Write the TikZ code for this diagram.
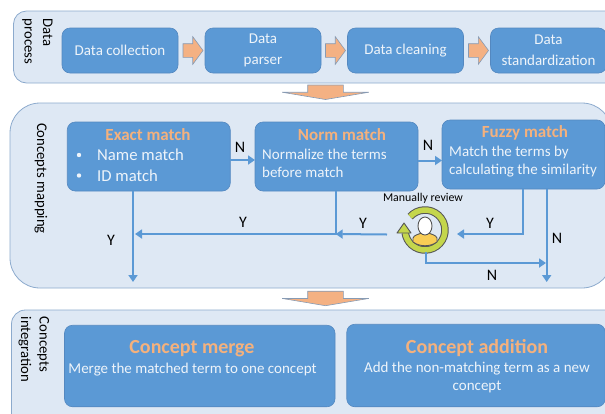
\documentclass[tikz,border=0pt]{standalone}
\usepackage{fontspec}
\setmainfont{Carlito}
\usetikzlibrary{positioning, arrows.meta, shapes.arrows}
\definecolor{panelFill}{RGB}{222, 232, 244}
\definecolor{panelLine}{RGB}{140, 170, 205}
\definecolor{boxFill}{RGB}{91, 153, 213}
\definecolor{boxLine}{RGB}{84, 136, 192}
\definecolor{blockFill}{RGB}{244, 177, 131}
\definecolor{blockLine}{RGB}{135, 155, 180}
\definecolor{titleColor}{RGB}{244, 177, 125}
\definecolor{textColor}{RGB}{238, 244, 250}
\definecolor{ringFill}{RGB}{196, 214, 76}
\definecolor{iconLine}{RGB}{85, 85, 85}
\definecolor{shirtFill}{RGB}{249, 205, 85}
\tikzset{
    panel_box/.style={
        draw=panelLine,
        fill=panelFill,
        line width=0.8pt
    },
    panel_label/.style={
        rotate=-90,
        align=left,
        text=black,
        inner sep=0pt,
        font=\fontsize{14.7}{18.5}\selectfont
    },
    step_box/.style={
        draw=boxLine,
        fill=boxFill,
        line width=0.6pt,
        rounded corners=8pt,
        outer sep=0pt,
        inner sep=0pt,
        align=center,
        text=textColor
    },
    top_box/.style={
        step_box,
        minimum width=116pt,
        minimum height=45pt,
        font=\fontsize{15}{21}\selectfont
    },
    match_box/.style={
        step_box,
        minimum width=163pt,
        minimum height=69pt
    },
    title_text/.style={
        text=titleColor,
        inner sep=0pt,
        font=\bfseries\fontsize{17}{20}\selectfont
    },
    big_title/.style={
        title_text,
        font=\bfseries\fontsize{20}{24}\selectfont
    },
    body_text/.style={
        text=textColor,
        inner sep=0pt,
        align=left,
        font=\fontsize{15}{18}\selectfont
    },
    step_arrow/.style={
        single arrow,
        draw=blockLine,
        fill=blockFill,
        line width=0.6pt,
        inner sep=0pt,
        outer sep=0pt,
        text height=13pt,
        text depth=0pt,
        minimum height=20pt,
        single arrow head extend=7pt,
        single arrow tip angle=107
    },
    stage_arrow/.style={
        single arrow,
        draw=blockLine,
        fill=blockFill,
        line width=0.6pt,
        inner sep=0pt,
        outer sep=0pt,
        rotate=-90,
        anchor=tip,
        text height=35pt,
        text depth=0pt,
        minimum height=14.5pt,
        single arrow head extend=25.5pt,
        single arrow tip angle=161
    },
    flow_edge/.style={
        -{Triangle[length=7pt,width=9pt]},
        draw=boxFill,
        line width=2pt
    },
    edge_label/.style={
        text=black,
        inner sep=0pt,
        font=\fontsize{16}{18}\selectfont
    }
}

\begin{document}
\begin{tikzpicture}[x=1pt, y=-1pt, node distance=5pt]
    \clip (0,0) rectangle (605,413);

    \draw[panel_box, rounded corners=13pt] (13.5,11) rectangle (640,83);
    \draw[panel_box, rounded corners=30pt] (10,103) rectangle (612,288);
    \draw[panel_box, rounded corners=14pt] (11.5,310) rectangle (640,450);

    \node[panel_label] (process_label) at (37.5,41.5) {Data\\process};
    \node[panel_label] (mapping_label) at (41,178.5) {Concepts mapping};
    \node[panel_label] (integration_label) at (34,349.5) {Concepts\\integration};

    % data process row
    \node[top_box] (collect) at (120,50.5) {Data collection};
    \node[step_arrow, right=of collect] (arrow_a) {};
    \node[top_box, right=2pt of arrow_a] (parser) {Data\\parser};
    \node[step_arrow, right=4.5pt of parser] (arrow_b) {};
    \node[top_box, right=2pt of arrow_b] (cleaning) {Data cleaning};
    \node[step_arrow, right=of cleaning] (arrow_c) {};
    \node[top_box, right=2pt of arrow_c] (standard) {Data\\standardization};

    \node[stage_arrow] (stage_a) at (325.5,99.5) {};
    \node[stage_arrow] (stage_b) at (325.5,305.7) {};

    % matching boxes
    \node[match_box] (exact) at (148.75,156.5) {};
    \node[match_box] (norm) at (336.5,156.5) {};
    \node[match_box] (fuzzy) at (523.5,154.5) {};

    \node[title_text] (exact_title) at (148,135) {Exact match};
    \node[body_text, anchor=west, font=\fontsize{16.7}{20}\selectfont] (exact_name) at (97,155) {Name match};
    \node[body_text, anchor=west, font=\fontsize{16.7}{20}\selectfont] (exact_id) at (97,175.5) {ID match};
    \fill[textColor] (79,155) circle (2.2pt);
    \fill[textColor] (79,175.5) circle (2.2pt);

    \node[title_text] (norm_title) at (342,135) {Norm match};
    \node[body_text, anchor=west] (norm_text) at (262,163.5)
        {Normalize the terms\\before match};

    \node[title_text] (fuzzy_title) at (525,133) {Fuzzy match};
    \node[body_text, anchor=west] (fuzzy_text) at (449,161.5)
        {Match the terms by\\calculating the similarity};

    % review icon
    \node[minimum size=46pt, inner sep=0pt, outer sep=0pt] (review) at (425,230) {};
    \node[inner sep=0pt, font=\fontsize{11.9}{14}\selectfont] (review_label) at (423,198) {Manually review};
    \begin{scope}[shift={(review.center)}]
        \draw[iconLine, line width=7.5pt] (138:20pt) arc[start angle=138, end angle=-172, radius=20pt];
        \draw[ringFill, line width=5.5pt] (138:20pt) arc[start angle=138, end angle=-172, radius=20pt];
        \draw[iconLine, fill=ringFill, line width=0.9pt, line join=round]
            (-21pt,7pt) -- (-28pt,-3pt) -- (-14pt,-3pt) -- cycle;
        \draw[iconLine, fill=shirtFill, line width=0.9pt]
            (-12pt,-12pt) -- (-12pt,-8pt) .. controls (-11pt,-5pt) and (-6pt,-4pt) .. (-3pt,-3pt)
            -- (3pt,-3pt) .. controls (6pt,-4pt) and (11pt,-5pt) .. (12pt,-8pt) -- (12pt,-12pt)
            .. controls (5pt,-17pt) and (-5pt,-17pt) .. cycle;
        \draw[iconLine, fill=white, line width=0.9pt]
            (0pt,4pt) ellipse [x radius=7pt, y radius=9pt];
    \end{scope}

    % flow lines
    \coordinate (exact_out) at (133,190.5);
    \coordinate (exact_end) at (133,282);
    \coordinate (norm_out) at (335.7,190.5);
    \coordinate (norm_join) at (335.7,234);
    \coordinate (left_end) at (135,234);
    \coordinate (review_left) at (387,234.5);
    \coordinate (review_right) at (457,234);
    \coordinate (fuzzy_left) at (523,188.5);
    \coordinate (fuzzy_right) at (546.7,188.5);
    \coordinate (fuzzy_end) at (546.7,282);
    \coordinate (review_out) at (426,252);
    \coordinate (review_end) at (546,263);
    \coordinate (row_a) at (0,160);
    \coordinate (row_b) at (0,160.5);

    \draw[flow_edge] (exact_out) -- (exact_end);
    \draw[flow_edge] (norm_out) |- (left_end);
    \draw[flow_edge] (review_left) -- (norm_join);
    \draw[flow_edge] (fuzzy_left) |- (review_right);
    \draw[flow_edge] (fuzzy_right) -- (fuzzy_end);
    \draw[flow_edge] (review_out) |- (review_end);
    \draw[flow_edge] (exact.east |- row_a) -- (norm.west |- row_a);
    \draw[flow_edge] (norm.east |- row_b) -- (fuzzy.west |- row_b);

    \node[edge_label] (n_exact) at (240,147) {N};
    \node[edge_label] (n_norm) at (428,145) {N};
    \node[edge_label] (y_left) at (243,222) {Y};
    \node[edge_label] (y_exact) at (111,240) {Y};
    \node[edge_label] (y_norm) at (363,223) {Y};
    \node[edge_label] (y_fuzzy) at (490,223) {Y};
    \node[edge_label] (n_fuzzy) at (557,238) {N};
    \node[edge_label] (n_review) at (492,275) {N};

    % integration boxes
    \node[step_box, minimum width=270.5pt, minimum height=81.5pt] (merge) at (199.75,366) {};
    \node[step_box, minimum width=258.5pt, minimum height=82.5pt] (addition) at (476,365.5) {};

    \node[big_title] (merge_title) at (192,349) {Concept merge};
    \node[body_text, font=\fontsize{15}{18}\selectfont] (merge_text) at (192.5,370)
        {Merge the matched term to one concept};
    \node[big_title] (addition_title) at (477,348) {Concept addition};
    \node[body_text, align=center, font=\fontsize{15}{18.5}\selectfont] (addition_text) at (477,377.5)
        {Add the non-matching term as a new\\concept};
\end{tikzpicture}
\end{document}
